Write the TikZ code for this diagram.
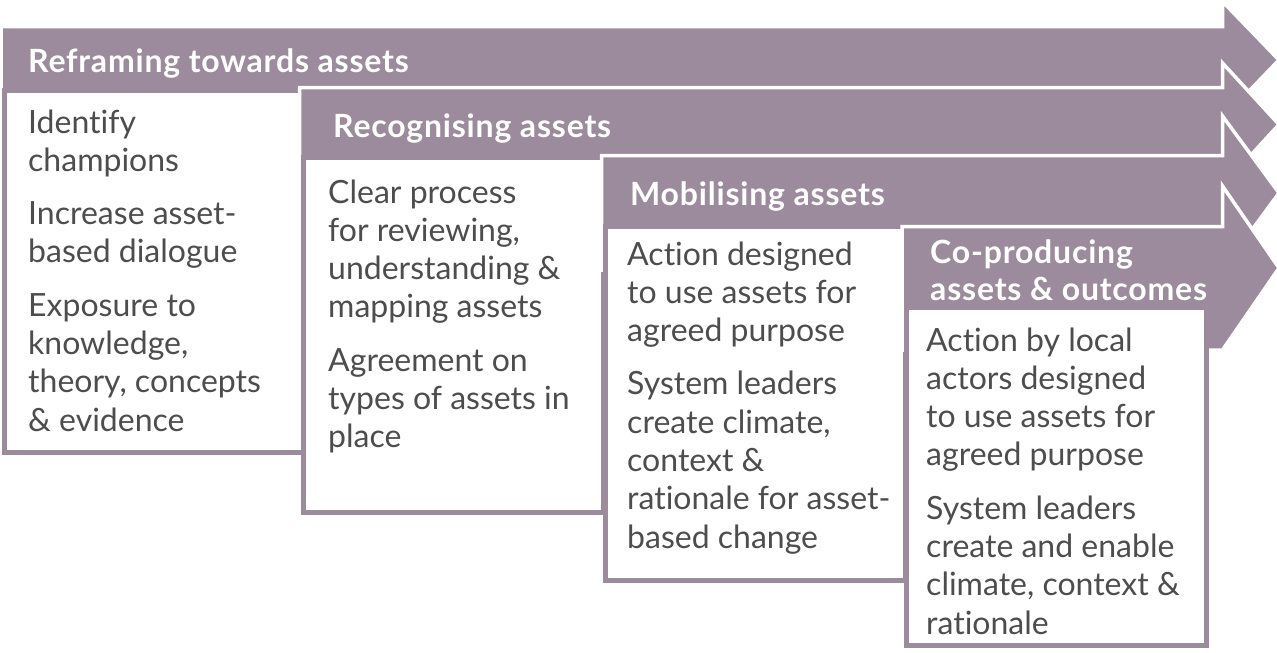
\documentclass[tikz,border=0pt]{standalone}
\usepackage{fontspec}
\setmainfont{Lato}[Ligatures=CommonOff]
\newfontfamily\headfont{Lato}[Ligatures=CommonOff, LetterSpace=2.5, BoldFont={Lato Bold}]
\definecolor{pg}{HTML}{9C8B9C}
\definecolor{tg}{HTML}{4D4D4D}
\newcommand{\stacklines}[2]{\vtop{\baselineskip=#1\lineskiplimit=-100pt\lineskip=0pt\tabskip=0pt\halign{##\hfil\cr#2\crcr}}}
\newcommand{\pgap}{\noalign{\vskip 15pt}}
\tikzset{
  arrowshape/.style={fill=pg, draw=white, line width=3.5pt, line join=miter},
  boxshape/.style={fill=white, draw=pg, line width=5pt},
  headtext/.style={anchor=base west, inner sep=0pt, text=white, font=\headfont\bfseries\fontsize{32}{37}\selectfont},
  bodytext/.style={anchor=base west, inner sep=0pt, text=tg, font=\fontsize{32}{38.3}\selectfont},
}
\begin{document}
\begin{tikzpicture}[x=1pt,y=-1pt]
\useasboundingbox (0,0) rectangle (1277,653);
% stage 1
\path[arrowshape] (1,26.5) -- (1222.5,26.5) -- (1222.5,1.5) -- (1279,60) -- (1222.5,118.5) -- (1,118.5) -- cycle;
\path[boxshape] (4.5,90.5) rectangle (303.5,452.5);
% stage 2
\path[arrowshape] (299.5,87.5) -- (1222.5,87.5) -- (1222.5,63) -- (1279,124.5) -- (1222.5,186) -- (299.5,186) -- cycle;
\path[boxshape] (303.5,157.5) rectangle (603.5,512.5);
% stage 3
\path[arrowshape] (601.5,155.5) -- (1222.5,155.5) -- (1222.5,116) -- (1279,193) -- (1222.5,270) -- (601.5,270) -- cycle;
\path[boxshape] (605,226.5) rectangle (905,580);
% stage 4
\path[arrowshape] (902,226.5) -- (1222.5,226.5) -- (1222.5,186) -- (1279,268) -- (1222.5,350) -- (902,350) -- cycle;
\path[boxshape] (906,307.5) rectangle (1206,645.5);
% headers
\node[headtext] (h1) at (28,72) {Reframing towards assets};
\node[headtext] (h2) at (333,137) {Recognising assets};
\node[headtext] (h3) at (630,205) {Mobilising assets};
\node[headtext] (h4) at (930,263) {\stacklines{37pt}{Co-producing\cr assets \& outcomes}};
% bodies
\node[bodytext] (b1) at (28,133) {\stacklines{38.3pt}{Identify\cr champions\cr\pgap Increase asset-\cr based dialogue\cr\pgap Exposure to\cr knowledge,\cr theory, concepts\cr \& evidence}};
\node[bodytext] (b2) at (328,203) {\stacklines{38.3pt}{Clear process\cr for reviewing,\cr understanding \&\cr mapping assets\cr\pgap Agreement on\cr types of assets in\cr place}};
\node[bodytext] (b3) at (627,265) {\stacklines{38.3pt}{Action designed\cr to use assets for\cr agreed purpose\cr\pgap System leaders\cr create climate,\cr context \&\cr rationale for asset-\cr based change}};
\node[bodytext] (b4) at (926,351) {\stacklines{38.3pt}{Action by local\cr actors designed\cr to use assets for\cr agreed purpose\cr\pgap System leaders\cr create and enable\cr climate, context \&\cr rationale}};
\end{tikzpicture}
\end{document}
